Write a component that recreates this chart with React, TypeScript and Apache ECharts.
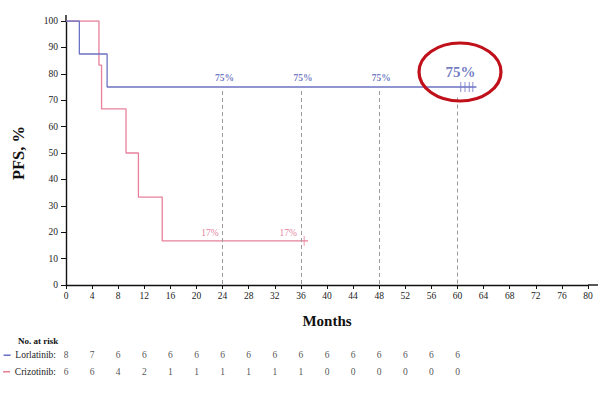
import React, { useEffect, useRef } from "react";
import * as echarts from "echarts";

const lorTimes = [0, 2.05, 6.3, 62.9];
const lorSurv = [100, 87.5, 75, 75];
const crizTimes = [0, 5.05, 5.45, 9.2, 11.1, 14.75, 37.1];
const crizSurv = [100, 83.3, 66.7, 50, 33.3, 16.7, 16.7];
const lorCensor = [60.5, 61.15, 61.8, 62.35];
const lorCensorSurv = 75;
const crizCensor = [36.5];
const crizCensorSurv = 16.7;
const landmarkMonths = [24, 36, 48, 60];
const lorLandmarkLabels = [
  { month: 24, value: 75, text: "75%" },
  { month: 36, value: 75, text: "75%" },
  { month: 48, value: 75, text: "75%" },
];
const lorBigLabel = { month: 60, value: 75, text: "75%" };
const crizLandmarkLabels = [
  { month: 24, value: 16.7, text: "17%" },
  { month: 36, value: 16.7, text: "17%" },
];
const riskMonths = [0, 4, 8, 12, 16, 20, 24, 28, 32, 36, 40, 44, 48, 52, 56, 60];
const lorRisk = [8, 7, 6, 6, 6, 6, 6, 6, 6, 6, 6, 6, 6, 6, 6, 6];
const crizRisk = [6, 6, 4, 2, 1, 1, 1, 1, 1, 1, 0, 0, 0, 0, 0, 0];
const riskRows = ["Crizotinib", "Lorlatinib"];

const BLUE = "#6c73c4";
const BLUE_TEXT = "#4d5ab4";
const PINK = "#e8809a";
const PINK_TEXT = "#dc5c86";
const SERIF = "'Liberation Serif', 'Times New Roman', serif";

export default function App() {
  const ref = useRef<HTMLDivElement>(null);
  useEffect(() => {
    if (!ref.current) return;
    const chart = echarts.init(ref.current, undefined, { renderer: "svg" });
    const zip = (a: number[], b: number[]) => a.map((t, i) => [t, b[i]]);
    const option: any = {
      animation: false,
      backgroundColor: "#fff",
      textStyle: { fontFamily: SERIF },
      grid: [
        { left: 66, right: 14, top: 21, bottom: 112, containLabel: false, outerBoundsMode: "none" },
        { left: 66, right: 14, top: 347, height: 33, containLabel: false, outerBoundsMode: "none" },
      ],
      xAxis: [
        {
          gridIndex: 0,
          type: "value",
          min: 0,
          max: 80,
          interval: 4,
          name: "Months",
          nameLocation: "middle",
          nameGap: 28,
          nameTextStyle: { fontFamily: SERIF, fontWeight: "bold", fontSize: 15, color: "#111" },
          axisLine: { lineStyle: { color: "#111", width: 1.4 } },
          axisTick: { length: 4, lineStyle: { color: "#111" } },
          axisLabel: { fontFamily: SERIF, fontSize: 9.5, color: "#222", margin: 6 },
          splitLine: { show: false },
        },
        {
          gridIndex: 1,
          type: "value",
          min: 0,
          max: 80,
          interval: 4,
          show: false,
        },
      ],
      yAxis: [
        {
          gridIndex: 0,
          type: "value",
          min: 0,
          max: 100,
          interval: 10,
          name: "PFS, %",
          nameLocation: "middle",
          nameRotate: 90,
          nameGap: 39,
          nameTextStyle: { fontFamily: SERIF, fontWeight: "bold", fontSize: 16.5, color: "#111" },
          axisLine: { show: true, lineStyle: { color: "#111", width: 1.4 } },
          axisTick: { show: true, length: 5, lineStyle: { color: "#111" } },
          axisLabel: { fontFamily: SERIF, fontSize: 9.5, color: "#222", margin: 8 },
          splitLine: { show: false },
        },
        {
          gridIndex: 1,
          type: "category",
          data: riskRows,
          axisLine: { show: false },
          axisTick: { show: false },
          axisLabel: {
            margin: 10,
            fontFamily: SERIF,
            fontSize: 9.5,
            color: "#222",
            formatter: (v: string) => (v === "Lorlatinib" ? "{b|}  " + v + ":" : "{p|}  " + v + ":"),
            rich: {
              b: { width: 7, height: 1.6, backgroundColor: BLUE },
              p: { width: 7, height: 1.6, backgroundColor: PINK },
            },
          },
        },
      ],
      series: [
        {
          name: "landmarks",
          type: "line",
          xAxisIndex: 0,
          yAxisIndex: 0,
          data: [],
          silent: true,
          markLine: {
            symbol: "none",
            silent: true,
            label: { show: false },
            lineStyle: { color: "#9a9a9a", type: [4, 3], width: 1 },
            data: landmarkMonths.map((m) => [{ coord: [m, m === 60 ? 71 : 73.5] }, { coord: [m, 0] }]),
          },
        },
        {
          name: "Crizotinib",
          type: "line",
          step: "end",
          xAxisIndex: 0,
          yAxisIndex: 0,
          data: zip(crizTimes, crizSurv),
          showSymbol: false,
          symbol: "none",
          lineStyle: { color: PINK, width: 1.3 },
          z: 3,
        },
        {
          name: "Lorlatinib",
          type: "line",
          step: "end",
          xAxisIndex: 0,
          yAxisIndex: 0,
          data: zip(lorTimes, lorSurv),
          showSymbol: false,
          symbol: "none",
          lineStyle: { color: BLUE, width: 1.3 },
          z: 4,
        },
        {
          type: "scatter",
          xAxisIndex: 0,
          yAxisIndex: 0,
          data: lorCensor.map((t) => [t, lorCensorSurv]),
          symbol: "rect",
          symbolSize: [1, 10],
          itemStyle: { color: BLUE },
          z: 5,
        },
        {
          type: "scatter",
          xAxisIndex: 0,
          yAxisIndex: 0,
          data: crizCensor.map((t) => [t, crizCensorSurv]),
          symbol: "rect",
          symbolSize: [1, 10],
          itemStyle: { color: PINK },
          z: 5,
        },
        {
          type: "scatter",
          xAxisIndex: 0,
          yAxisIndex: 0,
          data: lorLandmarkLabels.map((d) => ({ value: [d.month, d.value], name: d.text })),
          symbolSize: 0,
          silent: true,
          label: {
            show: true,
            position: "top",
            distance: 4,
            offset: [2, 0],
            formatter: (p: any) => p.name,
            fontFamily: SERIF,
            fontWeight: "bold",
            fontSize: 9.5,
            color: BLUE_TEXT,
          },
        },
        {
          type: "scatter",
          xAxisIndex: 0,
          yAxisIndex: 0,
          data: [{ value: [lorBigLabel.month, lorBigLabel.value], name: lorBigLabel.text }],
          symbolSize: 0,
          silent: true,
          label: {
            show: true,
            position: "top",
            distance: 8,
            offset: [3, 0],
            formatter: (p: any) => p.name,
            fontFamily: SERIF,
            fontWeight: "bold",
            fontSize: 15,
            color: BLUE_TEXT,
          },
        },
        {
          type: "scatter",
          xAxisIndex: 0,
          yAxisIndex: 0,
          data: crizLandmarkLabels.map((d) => ({ value: [d.month, d.value], name: d.text })),
          symbolSize: 0,
          silent: true,
          label: {
            show: true,
            position: "top",
            distance: 3,
            align: "right",
            offset: [-4, 0],
            formatter: (p: any) => p.name,
            fontFamily: SERIF,
            fontSize: 9.5,
            color: PINK_TEXT,
          },
        },
        {
          type: "scatter",
          xAxisIndex: 1,
          yAxisIndex: 1,
          data: riskMonths.map((m, i) => ({ value: [m, "Lorlatinib"], name: String(lorRisk[i]) })),
          symbolSize: 0,
          silent: true,
          label: {
            show: true,
            position: "inside",
            formatter: (p: any) => p.name,
            fontFamily: SERIF,
            fontSize: 9.5,
            color: "#222",
          },
        },
        {
          type: "scatter",
          xAxisIndex: 1,
          yAxisIndex: 1,
          data: riskMonths.map((m, i) => ({ value: [m, "Crizotinib"], name: String(crizRisk[i]) })),
          symbolSize: 0,
          silent: true,
          label: {
            show: true,
            position: "inside",
            formatter: (p: any) => p.name,
            fontFamily: SERIF,
            fontSize: 9.5,
            color: "#222",
          },
        },
      ],
      graphic: [
        {
          type: "line",
          shape: { x1: 588, y1: 285, x2: 598, y2: 285 },
          style: { stroke: "#111", lineWidth: 1.4 },
        },
        {
          type: "line",
          shape: { x1: 66, y1: 21, x2: 66, y2: 15 },
          style: { stroke: "#111", lineWidth: 1.4 },
        },
        {
          type: "text",
          x: 18,
          y: 341,
          style: {
            text: "No. at risk",
            fontFamily: SERIF,
            fontWeight: "bold",
            fontSize: 9,
            fill: "#111",
            verticalAlign: "middle",
          },
        },
        {
          type: "ellipse",
          shape: { cx: 460, cy: 72, rx: 41, ry: 29 },
          style: { fill: "none", stroke: "#c0101a", lineWidth: 3.2 },
          z: 10,
        },
      ],
    };
    chart.setOption(option);
    return () => chart.dispose();
  }, []);
  return <div ref={ref} style={{ width: 602, height: 397, position: "absolute", left: 0, top: 0 }} />;
}
